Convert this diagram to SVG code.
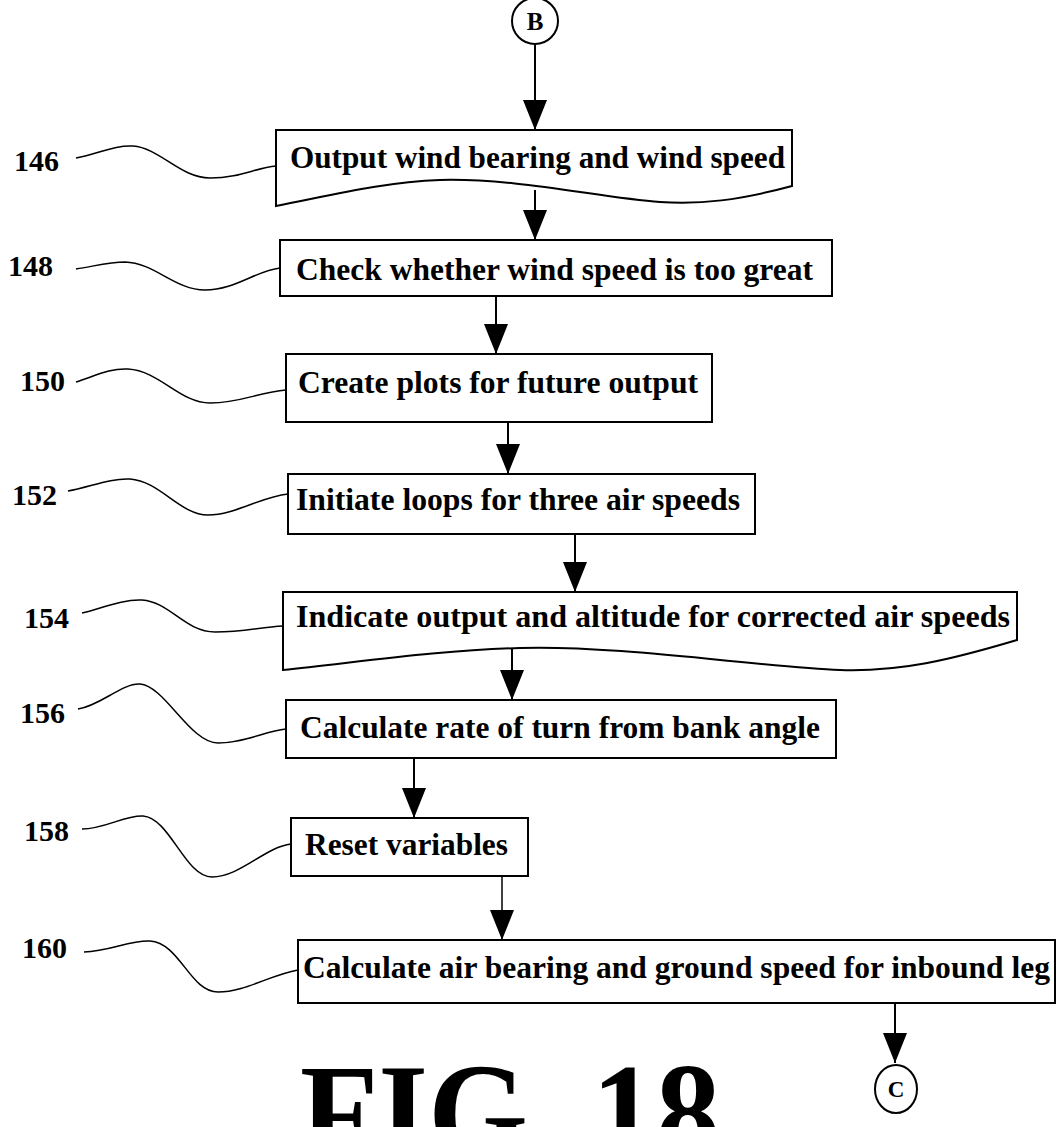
<svg xmlns="http://www.w3.org/2000/svg" width="1057" height="1127" viewBox="0 0 1057 1127">
<style>
.box{fill:#fff;stroke:#000;stroke-width:2}
.t{font-family:"Liberation Serif","Times New Roman",serif;font-weight:bold;font-size:31px;fill:#000}
.lbl{font-family:"Liberation Serif","Times New Roman",serif;font-weight:bold;font-size:30px;fill:#000}
.lead{fill:none;stroke:#000;stroke-width:1.5}
.conn{fill:none;stroke:#000;stroke-width:2;marker-end:url(#ah)}
</style>
<defs>
<marker id="ah" markerUnits="userSpaceOnUse" markerWidth="32" markerHeight="26" refX="30" refY="12" orient="auto">
<path d="M0,0 L30,12 L0,24 Z" fill="#000"/>
</marker>
</defs>
<rect width="1057" height="1127" fill="#fff"/>

<g id="connectors">
<line class="conn" x1="535" y1="44" x2="535" y2="130"/>
<line class="conn" x1="535" y1="190" x2="535" y2="240"/>
<line class="conn" x1="496" y1="296" x2="496" y2="354"/>
<line class="conn" x1="508" y1="422" x2="508" y2="474"/>
<line class="conn" x1="575" y1="534" x2="575" y2="592"/>
<line class="conn" x1="512" y1="648" x2="512" y2="700"/>
<line class="conn" x1="414" y1="758" x2="414" y2="818"/>
<line class="conn" x1="502" y1="876" x2="502" y2="940" style="stroke-width:1.5"/>
<line class="conn" x1="895" y1="1003" x2="895" y2="1063"/>
<path class="lead" d="M76,158 C100,153 115,145 133,146 C160,148 180,178 210,178 C240,178 255,168 276,166"/>
<path class="lead" d="M76,269 C95,266 110,262 125,262 C155,263 175,290 205,290 C235,290 255,271 280,268"/>
<path class="lead" d="M76,382 C95,376 110,368 128,369 C160,371 180,403 210,403 C240,403 260,392 286,390"/>
<path class="lead" d="M68,491 C90,487 110,478 130,479 C160,481 180,515 208,515 C235,515 260,497 288,494"/>
<path class="lead" d="M82,613 C100,609 122,599 142,600 C170,602 185,632 215,632 C245,632 260,627 283,626"/>
<path class="lead" d="M78,709 C100,706 122,683 140,684 C165,686 190,743 218,743 C245,743 265,731 286,729"/>
<path class="lead" d="M82,829 C105,829 125,815 143,816 C170,818 185,877 212,877 C240,877 265,847 291,844"/>
<path class="lead" d="M84,952 C110,951 130,940 150,941 C180,943 190,992 218,992 C245,992 270,975 298,970"/>
</g>

<g id="nodeB">
<circle cx="535" cy="21" r="23" class="box"/>
<text x="535" y="30" text-anchor="middle" class="t" style="font-size:25px">B</text>
</g>

<g id="n146">
<path class="box" d="M276,130 L792,130 L792,186 C740,200 700,205 660,202 C600,198 520,178 440,180 C380,182 320,198 276,206 Z"/>
<text x="290" y="168" class="t" textLength="495" lengthAdjust="spacingAndGlyphs">Output wind bearing and wind speed</text>
<text x="14" y="171" class="lbl">146</text>
</g>

<g id="n148">
<rect class="box" x="280" y="240" width="552" height="56"/>
<text x="296" y="280" class="t" textLength="517" lengthAdjust="spacingAndGlyphs">Check whether wind speed is too great</text>
<text x="8" y="276" class="lbl">148</text>
</g>

<g id="n150">
<rect class="box" x="286" y="354" width="426" height="68"/>
<text x="298" y="393" class="t" textLength="400" lengthAdjust="spacingAndGlyphs">Create plots for future output</text>
<text x="20" y="391" class="lbl">150</text>
</g>

<g id="n152">
<rect class="box" x="288" y="474" width="467" height="60"/>
<text x="296" y="510" class="t" textLength="444" lengthAdjust="spacingAndGlyphs">Initiate loops for three air speeds</text>
<text x="12" y="505" class="lbl">152</text>
</g>

<g id="n154">
<path class="box" d="M283,592 L1017,592 L1017,640 C950,660 900,672 840,670 C760,667 620,645 520,648 C440,650 360,662 283,670 Z"/>
<text x="296" y="627" class="t" textLength="714" lengthAdjust="spacingAndGlyphs">Indicate output and altitude for corrected air speeds</text>
<text x="24" y="628" class="lbl">154</text>
</g>

<g id="n156">
<rect class="box" x="286" y="700" width="550" height="58"/>
<text x="300" y="738" class="t" textLength="520" lengthAdjust="spacingAndGlyphs">Calculate rate of turn from bank angle</text>
<text x="20" y="723" class="lbl">156</text>
</g>

<g id="n158">
<rect class="box" x="291" y="818" width="237" height="58"/>
<text x="305" y="855" class="t" textLength="203" lengthAdjust="spacingAndGlyphs">Reset variables</text>
<text x="24" y="841" class="lbl">158</text>
</g>

<g id="n160">
<rect class="box" x="298" y="940" width="757" height="63"/>
<text x="303" y="978" class="t" textLength="747" lengthAdjust="spacingAndGlyphs">Calculate air bearing and ground speed for inbound leg</text>
<text x="22" y="958" class="lbl">160</text>
</g>

<g id="nodeC">
<ellipse cx="896" cy="1089" rx="21" ry="24" class="box"/>
<text x="896" y="1097" text-anchor="middle" class="t" style="font-size:23px">C</text>
</g>

<text x="300" y="1160" class="t" style="font-size:140px" textLength="420" lengthAdjust="spacingAndGlyphs">FIG. 18</text>
</svg>
